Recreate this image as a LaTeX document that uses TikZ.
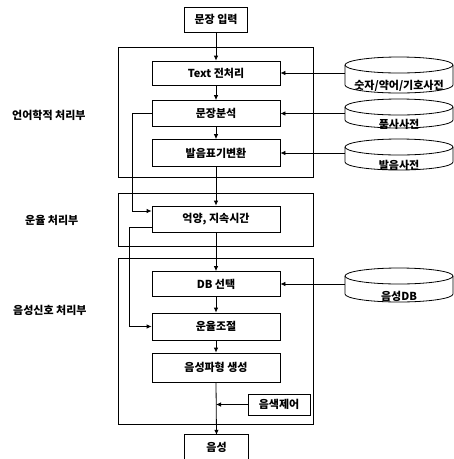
\documentclass[tikz,border=0pt]{standalone}
\usepackage{fontspec}
\newfontfamily\kr{Noto Sans CJK KR}
\usetikzlibrary{arrows.meta}

% Dictionary disk: name, centre x, top y, bottom y, caption
\newcommand\dbdisk[5]{%
  \node[inner sep=0pt, minimum width=108pt, minimum height={(#4-#3)*1pt}] (#1) at (#2,{(#3+#4)/2}) {};
  \draw[thin line] (#2,#3+8) ellipse [x radius=54pt, y radius=8pt];
  \draw[thin line] (#2-54,#3+8) -- (#2-54,#4-8)
     arc [start angle=180, end angle=360, x radius=54pt, y radius=8pt] -- (#2+54,#3+8);
  \node[disklabel] (#1-text) at (#2,{(#3+16+#4)/2+3}) {#5};
}

\begin{document}
\begin{tikzpicture}[x=1pt, y=-1pt,
  thin line/.style={line width=0.8pt, black},
  krfont/.style={font=\kr\bfseries\fontsize{11}{13}\selectfont},
  stagebox/.style={draw, thin line, krfont, minimum width=128pt, inner sep=0pt},
  disklabel/.style={krfont, inner sep=0pt},
  grouplabel/.style={krfont, anchor=west, inner sep=0pt},
  groupframe/.style={draw, thin line},
  arr/.style={thin line, -{Latex[length=5pt, width=4.5pt]}}
]
\useasboundingbox (0,0) rectangle (454,459);

% processing groups
\draw[groupframe] (118,47) rectangle (313,177);
\draw[groupframe] (118,193) rectangle (313,246);
\draw[groupframe] (118,258) rectangle (313,424);

\node[grouplabel] (gl1) at (12,115) {언어학적 처리부};
\node[grouplabel] (gl2) at (25,220) {운율 처리부};
\node[grouplabel] (gl3) at (13,310) {음성신호 처리부};

% input / output
\node[draw, thin line, krfont, minimum width=63pt, minimum height=25pt, inner sep=0pt] (in) at (216,19.5) {문장 입력};
\node[krfont, minimum width=63pt, minimum height=24pt, inner sep=0pt] (out) at (216.5,447) {음성};
\draw[thin line] ([yshift=-6pt]out.south west) -- (out.north west) -- (out.north east) -- ([yshift=-6pt]out.south east);

% stages
\node[stagebox, minimum height=24pt] (t1) at (216,73) {Text 전처리};
\node[stagebox, minimum height=26pt] (t2) at (216,113.5) {문장분석};
\node[stagebox, minimum height=27pt] (t3) at (216,153) {발음표기변환};
\node[stagebox, minimum height=26pt] (p1) at (216,219) {억양, 지속시간};
\node[stagebox, minimum height=25pt] (s1) at (216,284) {DB 선택};
\node[stagebox, minimum height=27pt] (s2) at (216,326.5) {운율조절};
\node[stagebox, minimum height=29pt] (s3) at (216,367.5) {음성파형 생성};
\node[draw, thin line, krfont, minimum width=62pt, minimum height=21pt, inner sep=0pt] (tone) at (279,404.5) {음색제어};

% dictionaries
\dbdisk{d1}{399}{57}{93}{숫자/약어/기호사전}
\dbdisk{d2}{399}{99}{128}{품사사전}
\dbdisk{d3}{399}{139}{170}{발음사전}
\dbdisk{d4}{399}{268}{302}{음성DB}

% main flow
\draw[arr] (in) -- (t1);
\draw[arr] (t1) -- (t2);
\draw[arr] (t2) -- (t3);
\draw[arr] (t3) -- (p1);
\draw[arr] (p1) -- (s1);
\draw[arr] (s1) -- (s2);
\draw[arr] (s2) -- (s3);
\draw[arr] (s3.south) -- (out.north);

% dictionary lookups
\draw[arr] (d1.west |- t1.east) -- (t1.east);
\draw[arr] (d2.west |- t2.east) -- (t2.east);
\draw[arr] (d3.west |- t3.east) -- (t3.east);
\draw[arr] (d4.west |- s1.east) -- (s1.east);

% side paths
\draw[arr] (t2.west) -- ++(-19,0) |- ([yshift=8pt]p1.west);
\draw[arr] ([yshift=-8pt]p1.west) -- ++(-22,0) |- (s2.west);
\draw[arr] (tone.west) -- (s3.south |- tone.west);
\end{tikzpicture}
\end{document}
